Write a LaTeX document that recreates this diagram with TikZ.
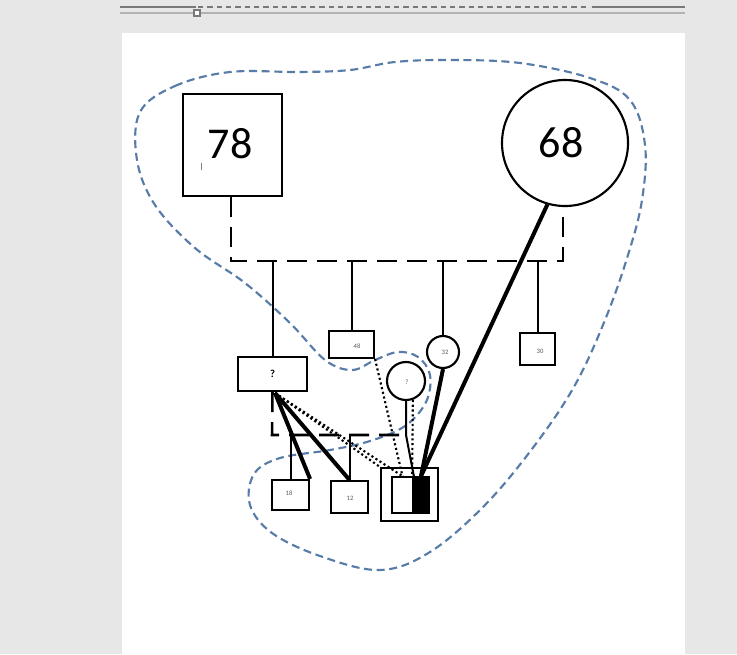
\documentclass[tikz,border=0pt]{standalone}
\usepackage{fontspec}
\setmainfont{Carlito}
\definecolor{bggray}{RGB}{231,231,231}
\definecolor{blobblue}{RGB}{88,124,168}
\definecolor{rulergray}{RGB}{120,120,120}
\definecolor{labelgray}{RGB}{90,90,90}
\begin{document}
\begin{tikzpicture}[x=0.75pt,y=-0.75pt,
  sym/.style={draw=black,line width=1.6pt,fill=white,inner sep=0pt},
  boxsym/.style={sym,rectangle},
  circsym/.style={sym,circle},
  rel/.style={line width=1.5pt},
  dashrel/.style={line width=1.9pt,dash pattern=on 15pt off 7.5pt},
  thickrel/.style={line width=3pt},
  dotrel/.style={line width=1.6pt,dotted},
  blob/.style={draw=blobblue,line width=1.6pt,dash pattern=on 6pt off 3.5pt},
  small/.style={font=\fontsize{5}{6}\selectfont,text=labelgray},
  big/.style={font=\fontsize{33}{36}\selectfont}]
\useasboundingbox (0,0) rectangle (737,654);
\fill[bggray] (0,0) rectangle (737,654);
\fill[white] (122,33) rectangle (685,654);
% top ruler strip
\draw[rulergray,line width=2pt,dash pattern=on 4pt off 3pt] (198,7) -- (590,7);
\draw[rulergray,line width=2pt] (120,7) -- (196,7);
\draw[rulergray,line width=2pt] (592,7) -- (685,7);
\draw[gray!60,line width=1pt] (120,13) -- (685,13);
\draw[rulergray,line width=0.8pt,fill=white] (194,10) rectangle (200,16);

% blue dashed blob
\draw[blob] plot[smooth cycle,tension=0.6] coordinates {
 (140,112) (175,86) (230,72) (300,72) (350,70) (395,62) (450,60) (520,63)
 (590,78) (630,100) (645,145) (642,200) (628,255) (605,320) (575,385)
 (535,445) (485,505) (430,552) (380,570) (320,556) (272,533) (250,505)
 (254,474) (280,458) (330,450) (370,441) (405,426) (426,402) (430,375)
 (418,357) (398,352) (375,360) (352,370) (325,360) (290,323) (245,283)
 (195,248) (155,205) (137,160)};

% nodes
\node[boxsym,minimum width=74.25pt,minimum height=76.5pt] (sq78) at (232.5,145) {};
\node[big] (t78) at (230,144) {78};
\draw[gray,line width=0.5pt] (201,163) -- (201,170);
\node[circsym,minimum size=94.5pt] (c68) at (565,143) {};
\node[big] (t68) at (561,143) {68};

\node[boxsym,minimum width=51.75pt,minimum height=25.5pt,font=\fontsize{8}{9}\bfseries] (q) at (272.5,374) {?};
\node[boxsym,minimum width=33.75pt,minimum height=20.25pt] (b48) at (351.5,344.5) {};
\node[small] (t48) at (357,346) {48};
\node[circsym,minimum size=24pt] (c32) at (443,352) {};
\node[small] (t32) at (445,352) {32};
\node[boxsym,minimum width=26.25pt,minimum height=24pt] (b30) at (537.5,349) {};
\node[small] (t30) at (540,351) {30};
\node[circsym,minimum size=28.5pt] (cq) at (406,381) {};
\node[small] (tq) at (407,382) {?};
\node[boxsym,minimum width=27.75pt,minimum height=22.5pt] (b18) at (290.5,495) {};
\node[small] (t18) at (289,493) {18};
\node[boxsym,minimum width=27.75pt,minimum height=24pt] (b12) at (349.5,497) {};
\node[small] (t12) at (350,498) {12};

% patient
\node[boxsym,minimum width=42.75pt,minimum height=39.75pt] (pt) at (409.5,494.5) {};
\node[boxsym,line width=1.3pt,minimum width=15.75pt,minimum height=27pt] (ptw) at (402.5,495) {};
\node[boxsym,line width=1.3pt,fill=black,minimum width=12pt,minimum height=27pt] (ptb) at (421,495) {};

% top generation
\coordinate (m1) at (231,261);
\coordinate (m2) at (563,261);
\draw[dashrel] (m1 |- sq78.south) -- (m1) -- (m2) -- (m2 |- c68.south);
\draw[rel] (q.north |- m1) -- (q.north);
\draw[rel] (b48.north |- m1) -- (b48.north);
\draw[rel] (c32.north |- m1) -- (c32.north);
\draw[rel] (b30.north |- m1) -- (b30.north);

% lower generation
\coordinate (s1) at (272,435);
\coordinate (s2) at (406,435);
\draw[dashrel] (q.south) -- (s1) -- (s2);
\draw[rel] (cq.south) -- (s2) -- (ptw.north east);
\draw[rel] (b18.north |- s1) -- (b18.north);
\draw[rel] (b12.north |- s1) -- (b12.north);

% emotional / relation lines
\coordinate (qa) at (275,393);
\draw[thickrel] (qa) -- (b18.north east);
\draw[thickrel] (qa) -- (b12.north);
\draw[dotrel] (qa) -- (pt.north west);
\draw[dotrel] (qa) -- (ptw.north);
\draw[dotrel] (b48.south east) -- (ptw.north);
\draw[dotrel] (cq.-70) -- (ptb.north west);
\draw[thickrel] (c68.254) -- (ptb.north);
\draw[thickrel] (c32.south) -- (ptb.north);
\end{tikzpicture}
\end{document}
